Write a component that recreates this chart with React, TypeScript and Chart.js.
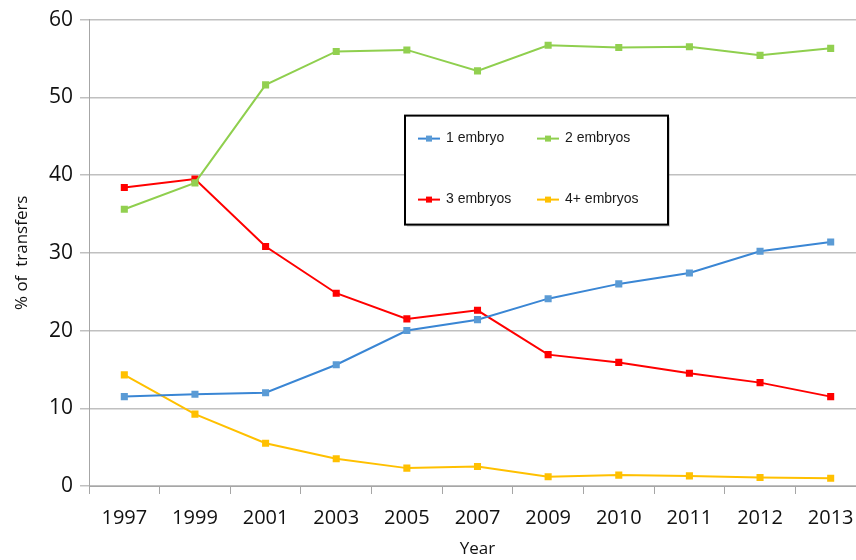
import React, { useEffect, useRef } from 'react';
import { Chart, registerables } from 'chart.js';

Chart.register(...registerables);

const years = ['1997', '1999', '2001', '2003', '2005', '2007', '2009', '2010', '2011', '2012', '2013'];
const oneEmbryo = [11.5, 11.8, 12.0, 15.6, 20.0, 21.4, 24.1, 26.0, 27.4, 30.2, 31.4];
const twoEmbryos = [35.6, 39.0, 51.6, 55.9, 56.1, 53.4, 56.7, 56.4, 56.5, 55.4, 56.3];
const threeEmbryos = [38.4, 39.5, 30.8, 24.8, 21.5, 22.6, 16.9, 15.9, 14.5, 13.3, 11.5];
const fourPlusEmbryos = [14.3, 9.25, 5.5, 3.5, 2.3, 2.5, 1.2, 1.4, 1.3, 1.1, 1.0];
const seriesNames = ['1 embryo', '2 embryos', '3 embryos', '4+ embryos'];
const yTickValues = [0, 10, 20, 30, 40, 50, 60];

const lineColors = ['#3a86d4', '#8fcf4e', '#ff0000', '#ffc000'];
const markerColors = ['#5b9bd5', '#92d050', '#ff0000', '#ffc000'];

const boxLegend = {
  id: 'boxLegend',
  afterDraw(chart: any) {
    const ctx = chart.ctx;
    const a = chart.chartArea;
    const x0 = a.left + 316;
    const y0 = a.top + 96;
    const w = 263;
    const h = 109;
    ctx.save();
    ctx.fillStyle = 'rgba(0,0,0,0.18)';
    ctx.fillRect(x0 + 2, y0 + 2, w, h);
    ctx.fillStyle = '#ffffff';
    ctx.fillRect(x0, y0, w, h);
    ctx.strokeStyle = '#000000';
    ctx.lineWidth = 2;
    ctx.strokeRect(x0, y0, w, h);
    ctx.font = '14px "Liberation Sans", Arial, sans-serif';
    ctx.textBaseline = 'middle';
    const cols = [x0 + 13, x0 + 132];
    const rows = [y0 + 23, y0 + 84];
    seriesNames.forEach((name, i) => {
      const cx = cols[i % 2];
      const cy = rows[Math.floor(i / 2)];
      ctx.strokeStyle = lineColors[i];
      ctx.lineWidth = 2;
      ctx.beginPath();
      ctx.moveTo(cx, cy);
      ctx.lineTo(cx + 22, cy);
      ctx.stroke();
      ctx.fillStyle = markerColors[i];
      ctx.fillRect(cx + 8, cy - 3, 6, 6);
      ctx.fillStyle = '#1a1a1a';
      ctx.textAlign = 'left';
      ctx.fillText(name, cx + 28, cy);
    });
    ctx.restore();
  },
};

export default function App() {
  const ref = useRef<HTMLCanvasElement | null>(null);
  useEffect(() => {
    if (!ref.current) return;
    const allSeries = [oneEmbryo, twoEmbryos, threeEmbryos, fourPlusEmbryos];
    const chart = new Chart(ref.current, {
      type: 'line',
      data: {
        labels: years,
        datasets: allSeries.map((d, i) => ({
          label: seriesNames[i],
          data: d,
          borderColor: lineColors[i],
          backgroundColor: markerColors[i],
          pointBackgroundColor: markerColors[i],
          pointBorderColor: markerColors[i],
          borderWidth: 2,
          pointStyle: 'rect',
          pointRadius: 5,
          pointBorderWidth: 0,
          tension: 0,
          fill: false,
        })),
      },
      options: {
        responsive: false,
        animation: false,
        devicePixelRatio: 1,
        layout: { padding: { left: 8, right: 14, top: 19, bottom: 0 } },
        plugins: {
          legend: { display: false },
          tooltip: { enabled: false },
        },
        scales: {
          x: {
            type: 'category',
            offset: true,
            grid: {
              offset: true,
              drawOnChartArea: false,
              drawTicks: true,
              tickLength: 8,
              color: '#a6a6a6',
              lineWidth: 1,
            },
            border: { display: true, color: '#a6a6a6', width: 1 },
            ticks: {
              color: '#111111',
              padding: 12,
              maxRotation: 0,
              autoSkip: false,
              font: { family: '"Open Sans", sans-serif', size: 20 },
            },
            title: {
              display: true,
              text: 'Year',
              color: '#111111',
              padding: { top: 0, bottom: 1 },
              font: { family: '"Open Sans", sans-serif', size: 17 },
            },
            afterFit(scale: any) {
              scale.height = 74;
            },
          },
          y: {
            min: 0,
            max: 60,
            afterBuildTicks(scale: any) {
              scale.ticks = yTickValues.map((v) => ({ value: v }));
            },
            grid: {
              color: '#c0c0c0',
              lineWidth: 1.5,
              tickLength: 9,
            },
            border: { display: true, color: '#a6a6a6', width: 1 },
            ticks: {
              color: '#111111',
              padding: 7,
              font: { family: '"Open Sans", sans-serif', size: 21 },
            },
            title: {
              display: true,
              text: '% of  transfers',
              color: '#111111',
              padding: { top: 4, bottom: 0 },
              font: { family: '"Open Sans", sans-serif', size: 17 },
            },
            afterFit(scale: any) {
              scale.width = 81;
            },
          },
        },
      },
      plugins: [boxLegend],
    });
    return () => chart.destroy();
  }, []);
  return (
    <div style={{ position: 'fixed', left: 0, top: 0, width: 856, height: 560, overflow: 'hidden', background: '#ffffff' }}>
      <canvas ref={ref} width={880} height={560} style={{ display: 'block', width: 880, height: 560 }} />
    </div>
  );
}
